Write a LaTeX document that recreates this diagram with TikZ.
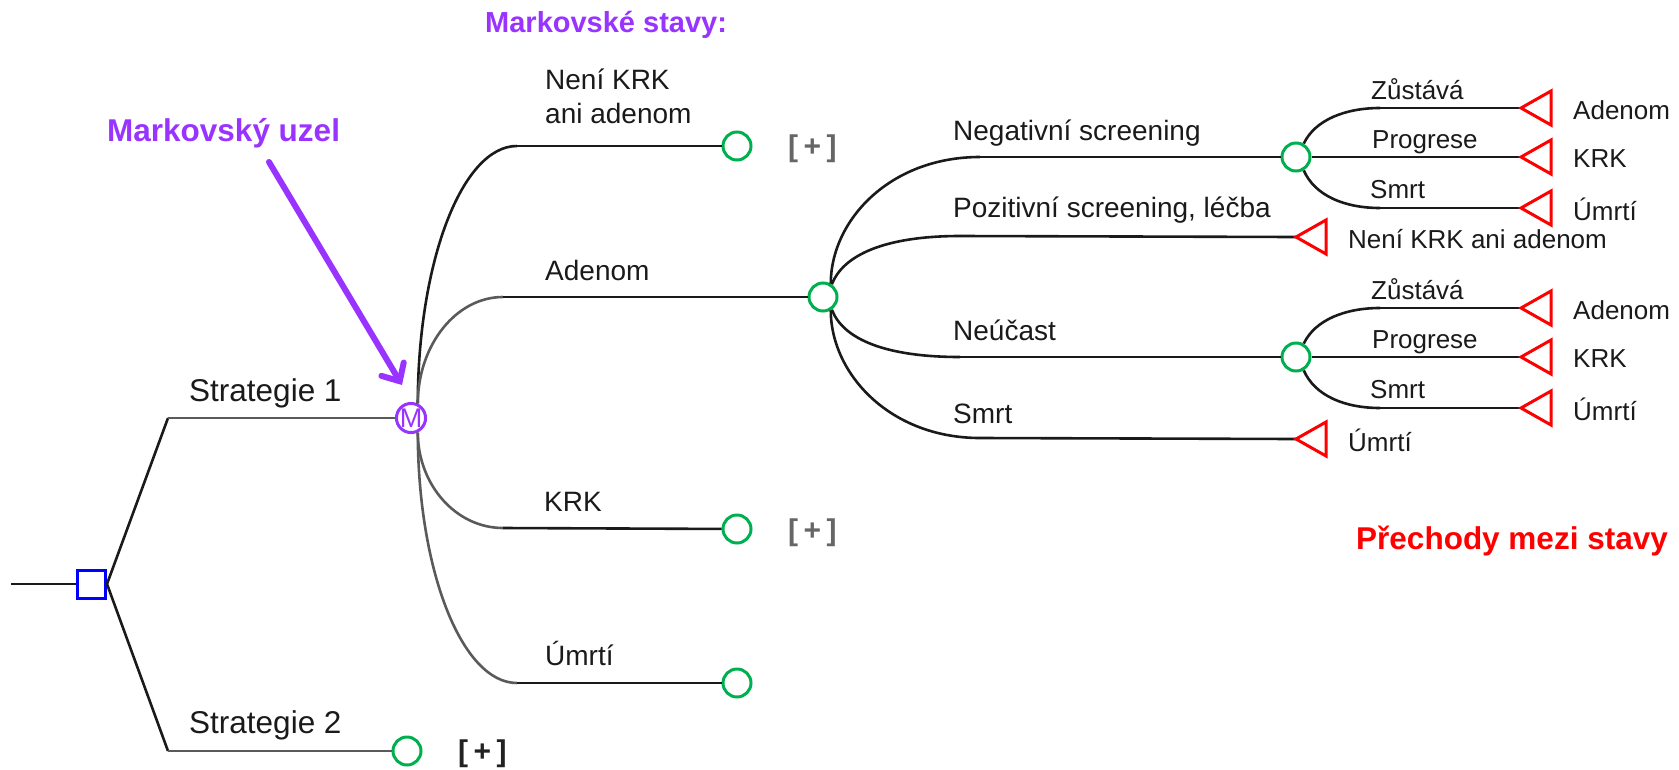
\documentclass[tikz,border=0pt]{standalone}
\usepackage{fontspec}
\setmainfont{Liberation Sans}
\usetikzlibrary{arrows.meta}
\definecolor{mkpurple}{HTML}{9933FF}
\definecolor{chgreen}{HTML}{00B050}
\definecolor{dnblue}{HTML}{0000FF}
\definecolor{trred}{HTML}{FF0000}
\definecolor{linedark}{HTML}{1A1A1A}
\definecolor{linegray}{HTML}{5A5A5A}
\definecolor{plusgray}{HTML}{666666}
\definecolor{plusdark}{HTML}{222222}
\newcommand{\plussign}{[\hspace{5.5pt}+\hspace{5.5pt}]}
\begin{document}
\begin{tikzpicture}[x=1pt,y=-1pt,
  dk/.style={draw=linedark,line width=2.6pt},
  gr/.style={draw=linegray,line width=2.6pt},
  chance/.style={circle,draw=chgreen,line width=3pt,minimum size=28pt,inner sep=0pt,fill=white},
  decision/.style={rectangle,draw=dnblue,line width=3pt,minimum size=28pt,inner sep=0pt,fill=white},
  markov/.style={circle,draw=mkpurple,line width=3pt,minimum size=29pt,inner sep=0pt,fill=white,
    text=mkpurple,font=\fontsize{27}{31}\selectfont},
  term/.style={draw=trred,line width=3pt,line join=miter},
  lbl/.style={anchor=base west,inner sep=0pt,text=linedark,font=\fontsize{28}{34}\selectfont},
  lblsm/.style={lbl,font=\fontsize{26}{31}\selectfont},
  lblbig/.style={lbl,font=\fontsize{31.5}{38}\selectfont},
  note/.style={anchor=base west,inner sep=0pt,font=\bfseries\fontsize{31.5}{38}\selectfont},
  plus/.style={anchor=base west,inner sep=0pt,text=plusgray,font=\bfseries\fontsize{30}{36}\selectfont},
]
\useasboundingbox (0,0) rectangle (1679,769);

% ---------- decision node and strategies ----------
\coordinate (in) at (11,584);
\node[decision] (root) at (91.5,584) {};
\coordinate (s1) at (168,418);
\coordinate (s2) at (168,751);
\node[markov] (M) at (411,418) {M};
\node[chance] (st2) at (407,751) {};

\draw[dk] (in) -- (root);
\draw[dk] (root.east) -- (s1);
\draw[dk] (root.east) -- (s2);
\draw[gr] (s1) -- (M);
\draw[gr] (s2) -- (st2);

\node[lblbig] (ls1) at (189,401) {Strategie 1};
\node[lblbig] (ls2) at (189,733) {Strategie 2};
\node[plus,text=plusdark] (p3) at (458,761) {\plussign};

% ---------- Markov states ----------
\node[chance] (cNo)  at (737,146) {};
\node[chance] (cAd)  at (823,297) {};
\node[chance] (cKrk) at (737,529) {};
\node[chance] (cUm)  at (737,683) {};

\coordinate (hNo)  at (517,146);
\coordinate (hAd)  at (503,297);
\coordinate (hKrk) at (503,528);
\coordinate (hUm)  at (517,683);

\draw[dk] (M.65)  .. controls (418,262) and (462,146) .. (hNo);
\draw[gr] (M.65)  .. controls (418,345) and (456,297) .. (hAd);
\draw[gr] (M.-65) .. controls (418,485) and (456,528) .. (hKrk);
\draw[gr] (M.-65) .. controls (418,571) and (462,683) .. (hUm);
\draw[dk] (hNo) -- (cNo);
\draw[dk] (hAd) -- (cAd);
\draw[dk] (hKrk) -- (cKrk);
\draw[dk] (hUm) -- (cUm);

\node[lbl] (lNo1) at (545,89)  {Není KRK};
\node[lbl] (lNo2) at (545,123) {ani adenom};
\node[lbl] (lAd)  at (545,280) {Adenom};
\node[lbl] (lKrk) at (544,511) {KRK};
\node[lbl] (lUm)  at (545,665) {Úmrtí};

\node[plus] (p1) at (788,156) {\plussign};
\node[plus] (p2) at (788,540) {\plussign};

% ---------- transitions from Adenom ----------
\node[chance] (cNeg) at (1296,157) {};
\node[chance] (cNeu) at (1296,357) {};
\coordinate (hNeg) at (980,157);
\coordinate (hPoz) at (960,236);
\coordinate (hNeu) at (960,357);
\coordinate (hSm)  at (980,438);
\coordinate (tPoz) at (1296,237);
\coordinate (tSm)  at (1296,439);

\draw[dk] (cAd.60)  .. controls (831,220) and (890,157) .. (hNeg);
\draw[dk] (cAd.55)  .. controls (843,255) and (885,236) .. (hPoz);
\draw[dk] (cAd.-55) .. controls (843,339) and (885,357) .. (hNeu);
\draw[dk] (cAd.-60) .. controls (831,374) and (890,438) .. (hSm);
\draw[dk] (hNeg) -- (cNeg);
\draw[dk] (hPoz) -- (tPoz);
\draw[dk] (hNeu) -- (cNeu);
\draw[dk] (hSm) -- (tSm);

\draw[term] (tPoz) -- ++(30,-17) -- ++(0,34) -- cycle;
\draw[term] (tSm)  -- ++(30,-17) -- ++(0,34) -- cycle;

\node[lbl] (lNeg) at (953,140) {Negativní screening};
\node[lbl] (lPoz) at (953,217) {Pozitivní screening, léčba};
\node[lbl] (lNeu) at (953,340) {Neúčast};
\node[lbl] (lSm)  at (953,423) {Smrt};
\node[lblsm] (ePoz) at (1348,248) {Není KRK ani adenom};
\node[lblsm] (eSm)  at (1348,451) {Úmrtí};

% ---------- transitions after negative screening / non-participation ----------
\foreach \c/\y in {cNeg/157,cNeu/357}{
  \coordinate (z\c) at (1380,\y-49);
  \coordinate (s\c) at (1380,\y+51);
  \coordinate (tz\c) at (1521,\y-49);
  \coordinate (tp\c) at (1521,\y);
  \coordinate (ts\c) at (1521,\y+51);
  \draw[dk] (\c.60) .. controls (1315,\y-37) and (1345,\y-49) .. (z\c);
  \draw[dk] (\c.-60) .. controls (1315,\y+39) and (1345,\y+51) .. (s\c);
  \draw[dk] (z\c) -- (tz\c);
  \draw[dk] (\c) -- (tp\c);
  \draw[dk] (s\c) -- (ts\c);
  \draw[term] (tz\c) -- ++(30,-17) -- ++(0,34) -- cycle;
  \draw[term] (tp\c) -- ++(30,-17) -- ++(0,34) -- cycle;
  \draw[term] (ts\c) -- ++(30,-17) -- ++(0,34) -- cycle;
  \node[lblsm] at (1371,\y-58) {Zůstává};
  \node[lblsm] at (1372,\y-9)  {Progrese};
  \node[lblsm] at (1370,\y+41) {Smrt};
  \node[lblsm] at (1573,\y-38) {Adenom};
  \node[lblsm] at (1573,\y+10) {KRK};
  \node[lblsm] at (1573,\y+63) {Úmrtí};
}

% ---------- annotations ----------
\node[note,text=mkpurple,font=\bfseries\fontsize{29}{35}\selectfont] (hdr) at (485,32) {Markovské stavy:};
\node[note,text=mkpurple] (mku) at (107,141) {Markovský uzel};
\coordinate (arrS) at (269,162);
\coordinate (arrE) at (402,385);
\draw[mkpurple,line width=6pt,line cap=round,
  -{Straight Barb[length=14pt,width=26pt,line cap=round]}] (arrS) -- (arrE);
\node[note,text=trred] (trn) at (1356,549) {Přechody mezi stavy};
\end{tikzpicture}
\end{document}
